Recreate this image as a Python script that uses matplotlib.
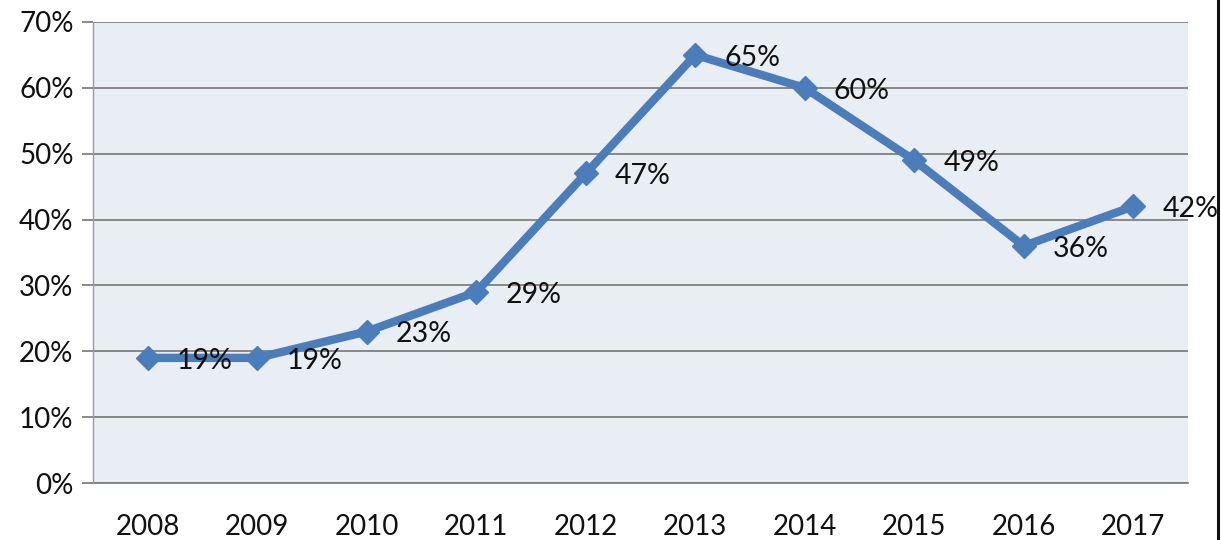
import matplotlib
matplotlib.use("Agg")
import matplotlib.pyplot as plt
from matplotlib.lines import Line2D

years = ["2008", "2009", "2010", "2011", "2012", "2013", "2014", "2015", "2016", "2017"]
shares = [19, 19, 23, 29, 47, 65, 60, 49, 36, 42]
y_ticks = [0, 10, 20, 30, 40, 50, 60, 70]
y_tick_labels = [f"{t}%" for t in y_ticks]

plt.rcParams["font.family"] = ["Lato", "DejaVu Sans"]

W, H, DPI = 1221, 540, 100
fig = plt.figure(figsize=(W / DPI, H / DPI), dpi=DPI)
fig.patch.set_facecolor("white")

left, right = 93 / W, 1188 / W
bottom, top = 1 - 483 / H, 1 - 22 / H
ax = fig.add_axes([left, bottom, right - left, top - bottom])
ax.set_facecolor("#e9edf4")

x = list(range(len(years)))
blue = "#4a7dba"
ax.plot(x, shares, color=blue, lw=6, marker="D", markersize=12.5,
        markerfacecolor=blue, markeredgecolor=blue, solid_joinstyle="round",
        zorder=3, clip_on=False)

for xi, v in zip(x, shares):
    ax.annotate(f"{v}%", (xi, v), xytext=(21, -2), textcoords="offset points",
                ha="left", va="center", fontsize=20.5, color="#111111", zorder=4)

ax.set_xlim(-0.5, len(years) - 0.5)
ax.set_ylim(0, 70)
ax.set_yticks(y_ticks)
ax.set_yticklabels(y_tick_labels)
ax.set_xticks(x)
ax.set_xticklabels(years)

ax.yaxis.grid(True, color="#808080", lw=1.3)
ax.set_axisbelow(True)
for s in ["top", "right", "bottom"]:
    ax.spines[s].set_visible(False)
ax.spines["left"].set_color("#9a9a9a")
ax.spines["left"].set_linewidth(1.0)

ax.tick_params(axis="y", length=8, width=1.3, color="#808080", pad=6,
               labelsize=20, labelcolor="#111111")
ax.tick_params(axis="x", length=0, pad=22, labelsize=20, labelcolor="#111111")

# bottom baseline extends into the tick area like the other gridlines
ax.axhline(0, color="#808080", lw=1.3, zorder=2, clip_on=False)

# frame edge on the right side of the figure
fig.add_artist(Line2D([1218 / W, 1218 / W], [0, 1], color="#111111", lw=2.2,
                      transform=fig.transFigure))

fig.savefig("out.png", dpi=DPI, facecolor="white")
